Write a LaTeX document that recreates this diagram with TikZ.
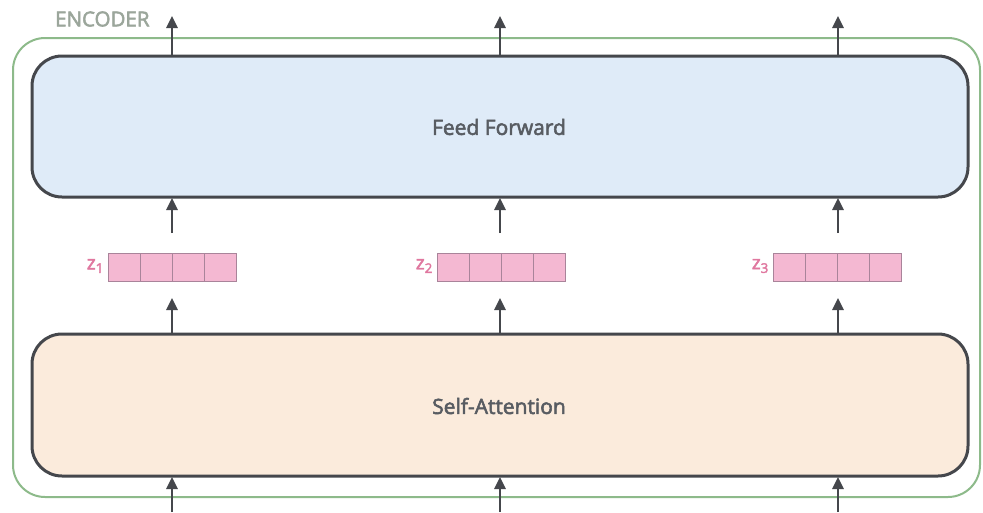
\documentclass[tikz,border=0pt]{standalone}
\usepackage{fontspec}
\setmainfont{Open Sans}
\newfontfamily\heavysans{Open Sans}[FakeBold=2.6]
\usetikzlibrary{arrows.meta}
\definecolor{encgreen}{HTML}{8DBA8A}
\definecolor{encgreytext}{HTML}{9BA69B}
\definecolor{boxline}{HTML}{45474C}
\definecolor{ffblue}{HTML}{DFEBF8}
\definecolor{sapeach}{HTML}{FBEBDC}
\definecolor{cellpink}{HTML}{F4B8D2}
\definecolor{celledge}{HTML}{A9849A}
\definecolor{zpink}{HTML}{E0779F}
\definecolor{textgrey}{HTML}{585C62}
\tikzset{
  encoderbox/.style={draw=encgreen, line width=2pt, rounded corners=32pt},
  layerbox/.style={draw=boxline, line width=3pt, rounded corners=30pt, inner sep=0pt},
  layertext/.style={font=\heavysans\fontsize{21}{24}\selectfont, text=textgrey},
  flow/.style={draw=boxline, line width=2.6pt, -{Triangle[length=12pt,width=11pt]}},
  cell/.style={draw=celledge, fill=cellpink, line width=1pt, minimum width=32pt, minimum height=28pt, inner sep=0pt},
  zlabel/.style={font=\heavysans\fontsize{19}{20}\selectfont, text=zpink, anchor=east, inner sep=2pt}
}
\begin{document}
\begin{tikzpicture}[x=1pt, y=-1pt]
  \useasboundingbox (0,0) rectangle (983,512);
  \fill[white] (0,0) rectangle (983,512);

  % encoder frame and its caption
  \draw[encoderbox] (13,38) rectangle (980,497);
  \node[font=\heavysans\fontsize{20.5}{21}\selectfont, text=encgreytext, anchor=west, inner sep=0pt] (enc) at (55,19) {ENCODER};

  % the two layers
  \path[layerbox, fill=ffblue] (32,56) rectangle (968,197);
  \path[layerbox, fill=sapeach] (32,334) rectangle (968,476);
  \node[layertext] (ff) at (499,127) {Feed Forward};
  \node[layertext] (sa) at (499,406) {Self-Attention};

  % positions of the three columns
  \foreach \i/\x in {1/172, 2/500, 3/838} {
    \coordinate (in\i)  at (\x,512);
    \coordinate (sab\i) at (\x,477);
    \coordinate (sat\i) at (\x,333);
    \coordinate (zb\i)  at (\x,298);
    \coordinate (zt\i)  at (\x,233);
    \coordinate (ffb\i) at (\x,198);
    \coordinate (fft\i) at (\x,56);
    \coordinate (out\i) at (\x,16);
    \draw[flow] (in\i) -- (sab\i);
    \draw[flow] (sat\i) -- (zb\i);
    \draw[flow] (zt\i) -- (ffb\i);
    \draw[flow] (fft\i) -- (out\i);
  }

  % z vectors
  \foreach \i/\x in {1/108, 2/437, 3/773} {
    \foreach \k in {0,1,2,3} {
      \node[cell] (z\i c\k) at ({\x+16+32*\k},267) {};
    }
    \node[zlabel] (zl\i) at ({\x-2},266) {z\textsubscript{\i}};
  }
\end{tikzpicture}
\end{document}
